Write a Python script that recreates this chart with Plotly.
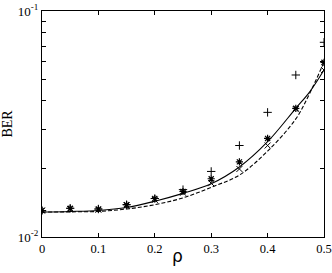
import plotly.graph_objects as go

rho = [0, 0.05, 0.1, 0.15, 0.2, 0.25, 0.3, 0.35, 0.4, 0.45, 0.5]
ber_plus = [0.0131, 0.0134, 0.0133, 0.0139, 0.0148, 0.0162, 0.0195, 0.0254, 0.0356, 0.0521, 0.0727]
ber_star = [0.0131, 0.0134, 0.0133, 0.0139, 0.0148, 0.0159, 0.0181, 0.0215, 0.0273, 0.0371, 0.0593]
ber_x = [0.0131, 0.0133, 0.0132, 0.0138, 0.0146, 0.0157, 0.0173, 0.0200, 0.0254, 0.0368, 0.0548]

rho_curve = [0, 0.05, 0.1, 0.15, 0.2, 0.25, 0.3, 0.35, 0.4, 0.45, 0.475, 0.5]
ber_solid = [0.0129, 0.01297, 0.0131, 0.0135, 0.0144, 0.0156, 0.0172, 0.0204, 0.0264, 0.0371, 0.0440, 0.0548]
ber_dashed = [0.0129, 0.01292, 0.01298, 0.0133, 0.0139, 0.0149, 0.0166, 0.0188, 0.0240, 0.0333, 0.0434, 0.0594]

x_ticks = [0, 0.1, 0.2, 0.3, 0.4, 0.5]
x_ticktext = ["0", "0.1", "0.2", "0.3", "0.4", "0.5"]
y_ticks = [0.01, 0.1]
y_ticktext = ["10<sup>-2</sup>", "10<sup>-1</sup>"]
y_minor = [0.02, 0.03, 0.04, 0.05, 0.06, 0.07, 0.08, 0.09]

FONT = "Liberation Serif"

fig = go.Figure()
fig.add_trace(go.Scatter(x=rho_curve, y=ber_solid, mode="lines",
                         line=dict(color="black", width=1.1, shape="spline"), showlegend=False))
fig.add_trace(go.Scatter(x=rho_curve, y=ber_dashed, mode="lines",
                         line=dict(color="black", width=1.1, dash="4px,2px", shape="spline"), showlegend=False))
fig.add_trace(go.Scatter(x=rho, y=ber_plus, mode="markers",
                         marker=dict(symbol="cross-thin-open", size=6, color="black",
                                     line=dict(color="black", width=1)),
                         showlegend=False))
fig.add_trace(go.Scatter(x=rho, y=ber_star, mode="markers",
                         marker=dict(symbol="asterisk-open", size=6, color="black",
                                     line=dict(color="black", width=1.2)),
                         showlegend=False))
fig.add_trace(go.Scatter(x=rho, y=ber_x, mode="markers",
                         marker=dict(symbol="x-thin-open", size=6, color="black",
                                     line=dict(color="black", width=1)),
                         showlegend=False))

fig.update_layout(
    width=332, height=273,
    margin=dict(l=42, r=8, t=11, b=36),
    paper_bgcolor="white", plot_bgcolor="white",
    font=dict(family=FONT, size=13, color="black"),
    xaxis=dict(range=[0, 0.5], tickvals=x_ticks, ticktext=x_ticktext,
               ticks="inside", ticklen=4, tickcolor="black", automargin=False,
               tickfont=dict(size=12.5), ticklabeloverflow="allow",
               showline=True, linecolor="black", linewidth=1, mirror="ticks",
               showgrid=False, zeroline=False),
    yaxis=dict(type="log", range=[-2, -1], tickvals=y_ticks, ticktext=y_ticktext,
               ticks="inside", ticklen=4, tickcolor="black", automargin=False,
               minor=dict(tickvals=y_minor, ticks="inside", ticklen=4, tickcolor="black", showgrid=False),
               showline=True, linecolor="black", linewidth=1, mirror="ticks",
               showgrid=False, zeroline=False,
               title=dict(text="BER", font=dict(size=14), standoff=3)),
    annotations=[dict(text="ρ", xref="paper", yref="paper", x=0.48, y=0,
                      xanchor="center", yanchor="top", yshift=-7, showarrow=False,
                      font=dict(size=17, family="DejaVu Sans", color="black"))],
)

fig.write_html("out.html", config={"displayModeBar": False},
               post_script="document.body.style.margin='0';document.body.style.overflow='hidden';")
